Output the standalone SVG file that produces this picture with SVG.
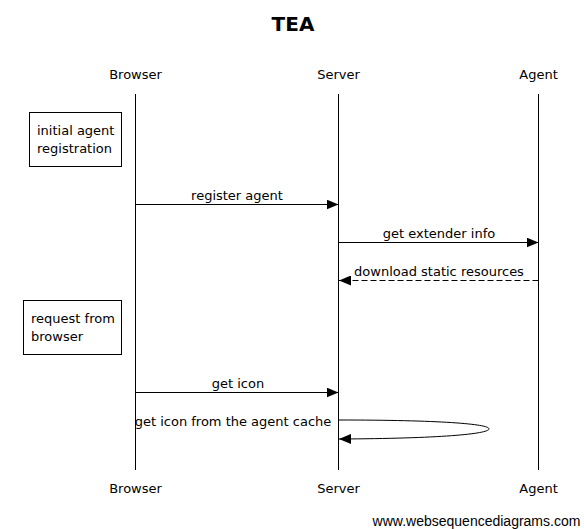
<svg xmlns="http://www.w3.org/2000/svg" width="584" height="529" viewBox="0 0 584 529">
<defs>
<style>
text{font-family:"DejaVu Sans",sans-serif;font-size:13px;fill:#000}
.c{text-anchor:middle}
.life{stroke:#000;stroke-width:1}
.msg{stroke:#000;stroke-width:1;fill:none}
.note{fill:#fff;stroke:#000;stroke-width:1}
</style>
<marker id="ah" viewBox="0 0 12 10" refX="12" refY="5" markerWidth="12" markerHeight="10" markerUnits="userSpaceOnUse" orient="auto">
<path d="M0,0 L12,5 L0,10 Z" fill="#000"/>
</marker>
</defs>
<rect width="584" height="529" fill="#fff"/>
<text x="293" y="31" class="c" style="font-size:20px;font-weight:bold">TEA</text>
<g id="browser">
<text x="135.5" y="79" class="c">Browser</text>
<line class="life" x1="135.5" y1="94" x2="135.5" y2="470"/>
<text x="135.5" y="493" class="c">Browser</text>
</g>
<g id="server">
<text x="338.5" y="79" class="c">Server</text>
<line class="life" x1="338.5" y1="94" x2="338.5" y2="470"/>
<text x="338.5" y="493" class="c">Server</text>
</g>
<g id="agent">
<text x="538.5" y="79" class="c">Agent</text>
<line class="life" x1="538.5" y1="94" x2="538.5" y2="470"/>
<text x="538.5" y="493" class="c">Agent</text>
</g>
<g id="note1">
<rect class="note" x="29.5" y="112.5" width="92" height="54"/>
<text x="37" y="135">initial agent</text>
<text x="37" y="153">registration</text>
</g>
<g id="note2">
<rect class="note" x="23.5" y="300.5" width="98" height="54"/>
<text x="31" y="323">request from</text>
<text x="31" y="341">browser</text>
</g>
<g id="connectors">
<line class="msg" x1="135.5" y1="204.5" x2="338.5" y2="204.5" marker-end="url(#ah)"/>
<text x="237" y="200" class="c">register agent</text>
<line class="msg" x1="339" y1="242.5" x2="538.5" y2="242.5" marker-end="url(#ah)"/>
<text x="439" y="238" class="c">get extender info</text>
<line class="msg" x1="538.5" y1="280.5" x2="339" y2="280.5" stroke-dasharray="6,3" marker-end="url(#ah)"/>
<text x="439" y="276" class="c">download static resources</text>
<line class="msg" x1="135.5" y1="392.5" x2="338.5" y2="392.5" marker-end="url(#ah)"/>
<text x="238" y="388" class="c">get icon</text>
<text x="233" y="426" class="c">get icon from the agent cache</text>
<path class="msg" d="M339,420 C440,420 490,424 489,429 C488,434 440,438.5 339,439" stroke="#333" marker-end="url(#ah)"/>
</g>
<text x="476.5" y="526" class="c" style="font-family:'Liberation Sans',Arial,sans-serif;font-size:14px">www.websequencediagrams.com</text>
</svg>
